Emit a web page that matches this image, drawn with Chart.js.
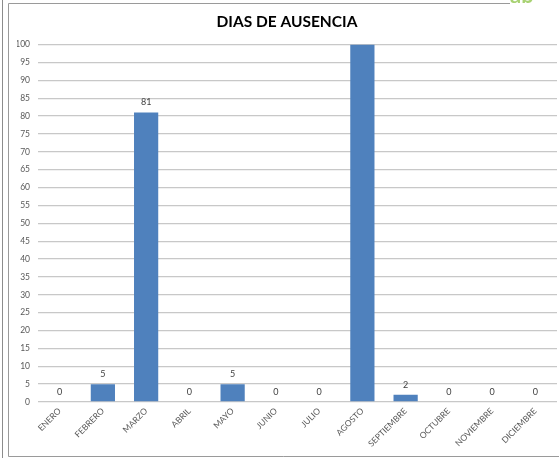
<!DOCTYPE html>
<html>
<head>
<meta charset="utf-8">
<script src="https://cdn.jsdelivr.net/npm/chart.js@4.4.1/dist/chart.umd.min.js"></script>
<style>
  html, body { margin: 0; padding: 0; background: #ffffff; }
  #wrap { width: 559px; height: 458px; position: relative; }
</style>
</head>
<body>
<div id="wrap"><canvas id="c" width="559" height="458"></canvas></div>
<script>
// Días de ausencia por mes
const months = ['ENERO', 'FEBRERO', 'MARZO', 'ABRIL', 'MAYO', 'JUNIO', 'JULIO',
                'AGOSTO', 'SEPTIEMBRE', 'OCTUBRE', 'NOVIEMBRE', 'DICIEMBRE'];
const absenceDays = [0, 5, 81, 0, 5, 0, 0, 100, 2, 0, 0, 0];
const yMin = 0;
const yMax = 100;
const yStep = 5;
const chartTitle = 'DIAS DE AUSENCIA';

const FONT = 'Lato, "Open Sans", "Liberation Sans", sans-serif';

// Outer frame lines and the green corner mark
const framePlugin = {
  id: 'frame',
  beforeDraw(chart) {
    const ctx = chart.ctx;
    ctx.save();
    ctx.fillStyle = '#ffffff';
    ctx.fillRect(0, 0, chart.width, chart.height);
    ctx.strokeStyle = '#8c8c8c';
    ctx.lineWidth = 1;
    ctx.beginPath();
    ctx.moveTo(2.5, 0);
    ctx.lineTo(2.5, chart.height);
    ctx.stroke();
    ctx.strokeStyle = '#9a9a9a';
    ctx.beginPath();
    ctx.moveTo(510, 3.5);
    ctx.lineTo(8.5, 3.5);
    ctx.lineTo(8.5, 456.5);
    ctx.lineTo(chart.width, 456.5);
    ctx.stroke();
    ctx.fillStyle = '#a8d273';
    ctx.font = 'bold 22px ' + FONT;
    ctx.textBaseline = 'alphabetic';
    ctx.fillText('ab', 510, 3);
    ctx.restore();
  }
};

// Value labels above each bar
const valueLabels = {
  id: 'valueLabels',
  afterDatasetsDraw(chart) {
    const ctx = chart.ctx;
    const meta = chart.getDatasetMeta(0);
    const data = chart.data.datasets[0].data;
    const top = chart.scales.y.max;
    ctx.save();
    ctx.font = '9px ' + FONT;
    ctx.fillStyle = '#404040';
    ctx.textAlign = 'center';
    ctx.textBaseline = 'middle';
    meta.data.forEach((bar, i) => {
      if (data[i] >= top) return;
      ctx.fillText(String(data[i]), bar.x, bar.y - 10);
    });
    ctx.restore();
  }
};

new Chart(document.getElementById('c'), {
  type: 'bar',
  data: {
    labels: months,
    datasets: [{
      data: absenceDays,
      backgroundColor: '#4f81bd',
      borderWidth: 0,
      barPercentage: 0.56,
      categoryPercentage: 1.0
    }]
  },
  options: {
    responsive: false,
    animation: false,
    layout: { padding: { left: 17, right: 2, top: 0, bottom: 0 } },
    plugins: {
      legend: { display: false },
      tooltip: { enabled: false },
      title: {
        display: true,
        text: chartTitle,
        color: '#000000',
        font: { family: FONT, size: 15.5, weight: 'bold' },
        padding: { top: 13, bottom: 13 }
      }
    },
    scales: {
      x: {
        grid: { display: false, drawTicks: false },
        border: { display: false },
        ticks: {
          color: '#595959',
          font: { family: FONT, size: 8.5 },
          minRotation: 45,
          maxRotation: 45,
          autoSkip: false,
          padding: 4
        },
        afterFit(scale) { scale.height = 56; }
      },
      y: {
        min: yMin,
        max: yMax,
        grid: { color: '#c8c8c8', lineWidth: 1.3, drawTicks: false },
        border: { display: false },
        ticks: {
          stepSize: yStep,
          color: '#595959',
          font: { family: FONT, size: 8.5 },
          padding: 8
        },
        afterFit(scale) { scale.width = 21; }
      }
    }
  },
  plugins: [framePlugin, valueLabels]
});
</script>
</body>
</html>
